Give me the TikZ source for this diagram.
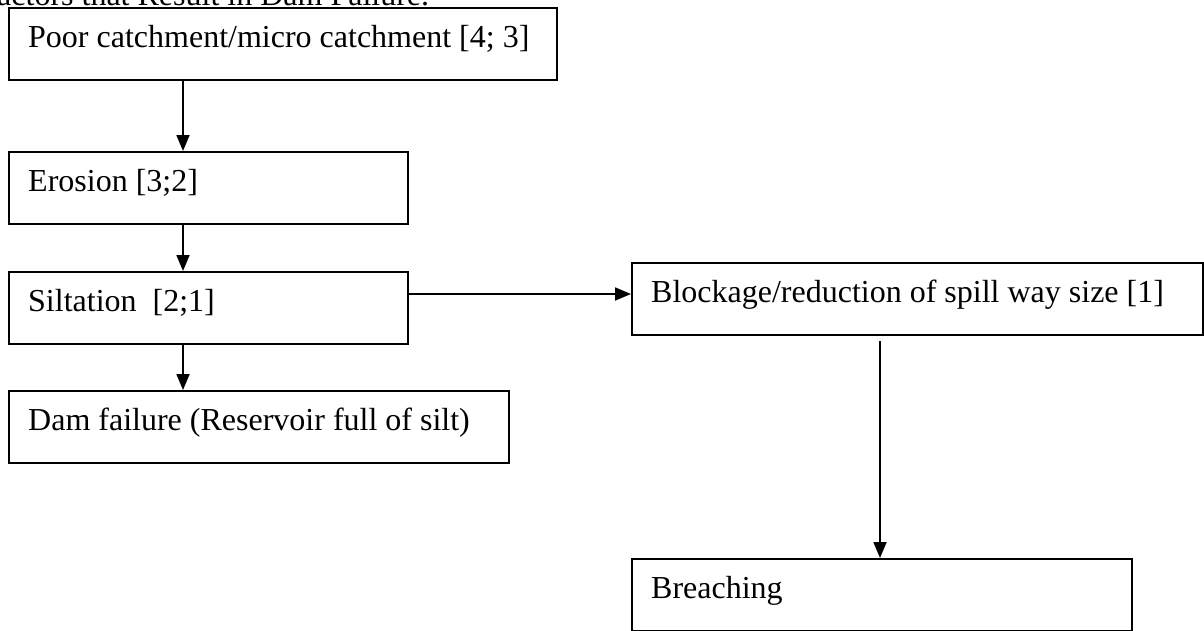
\documentclass[tikz,border=0pt]{standalone}
\usepackage{fontspec}
\setmainfont{Liberation Serif}
\usetikzlibrary{arrows.meta}
\begin{document}
\begin{tikzpicture}[x=1pt,y=-1pt,
  txt/.style={font=\fontsize{32}{38}\selectfont, inner sep=0pt},
  lbl/.style={txt, anchor=base west},
  box/.style={draw, line width=2pt, anchor=north west, inner sep=0pt,
    minimum height=72pt},
  arr/.style={line width=1.8pt, -{Triangle[width=13pt,length=16pt]}}]
\useasboundingbox (0,0) rectangle (1204,630);

% heading line, partly above the page edge
\node[lbl] (title) at (-3,5) {actors that Result in Dam Failure.};

% left column
\node[box, minimum width=548pt] (catch) at (8,7) {};
\node[box, minimum width=399pt] (eros) at (8,151) {};
\node[box, minimum width=399pt] (silt) at (8,271) {};
\node[box, minimum width=500pt] (dam) at (8,390) {};

% right column
\node[box, minimum width=571pt] (block) at (631,262) {};
\node[box, minimum width=500pt] (breach) at (631,558) {};

% box texts: 20pt in from the left edge, baseline 40pt below the top edge
\node[lbl] (catch-t) at ([shift={(20,40)}]catch.north west) {Poor catchment/micro catchment [4; 3]};
\node[lbl] (eros-t) at ([shift={(20,40)}]eros.north west) {Erosion [3;2]};
\node[lbl] (silt-t) at ([shift={(20,40)}]silt.north west) {Siltation\ \ [2;1]};
\node[lbl] (dam-t) at ([shift={(20,40)}]dam.north west) {Dam failure (Reservoir full of silt)};
\node[lbl] (block-t) at ([shift={(20,40)}]block.north west) {Blockage/reduction of spill way size [1]};
\node[lbl] (breach-t) at ([shift={(20,40)}]breach.north west) {Breaching};

% connectors
\coordinate (colA) at (183,0);
\coordinate (rowS) at (0,294);
\coordinate (bstart) at (880,341);
\draw[arr] (colA |- catch.south) -- (colA |- eros.north);
\draw[arr] (colA |- eros.south) -- (colA |- silt.north);
\draw[arr] (colA |- silt.south) -- (colA |- dam.north);
\draw[arr] (rowS -| silt.east) -- (rowS -| block.west);
\draw[arr] (bstart) -- (bstart |- breach.north);
\end{tikzpicture}
\end{document}
